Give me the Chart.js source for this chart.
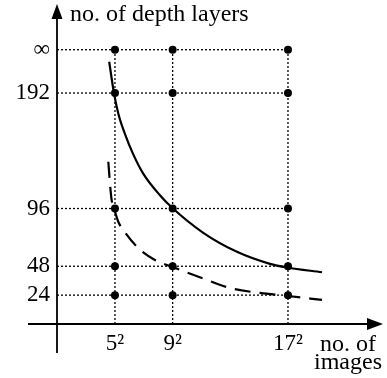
<!DOCTYPE html>
<html>
<head>
<meta charset="utf-8">
<script src="https://cdn.jsdelivr.net/npm/chart.js@4.4.0/dist/chart.umd.min.js"></script>
<style>
  html, body { margin: 0; padding: 0; background: #fff; }
  #wrap { width: 387px; height: 378px; }
</style>
</head>
<body>
<div id="wrap"><canvas id="chart" width="387" height="378"></canvas></div>
<script>
// Grid: image counts are n^2, depth levels on the y axis
const imageSides = [5, 9, 17];
const imageLabels = ["5\u00b2", "9\u00b2", "17\u00b2"];
const depthLevels = [24, 48, 96, 192, 228];
const depthLabels = ["24", "48", "96", "192", "\u221e"];

// Solid curve
const solidN = [4.60, 4.93, 5.23, 5.69, 6.27, 6.96, 8.12, 8.93, 11.10, 13.46, 15.75, 16.93, 19.36];
const solidDepth = [218, 192, 175, 158, 141, 125, 107, 97, 76, 60, 50, 47, 43];

// Dashed curve
const dashN = [4.54, 4.65, 4.77, 4.93, 5.23, 5.58, 6.60, 7.77, 9.0, 11.03, 12.98, 15.06, 17.0, 19.36];
const dashDepth = [134.9, 117.2, 103.1, 96.4, 85.0, 78.1, 63.2, 53.2, 47.4, 38.2, 29.9, 25.8, 23.3, 20.0];

const xMin = 0.98, xMax = 23.59;
const yMin = 0, yMax = 266;
const FONT = "'Liberation Serif', 'DejaVu Serif', serif";

let datasets = [];

// dotted horizontal grid lines, from the y axis to the last column
depthLevels.forEach(v => {
    datasets.push({
        data: [{x: xMin, y: v}, {x: imageSides[imageSides.length - 1], y: v}],
        borderColor: "#000", borderWidth: 1.3, borderDash: [2, 2],
        pointRadius: 0, tension: 0
    });
});
// dotted vertical grid lines, from the x axis to the top row
imageSides.forEach(n => {
    datasets.push({
        data: [{x: n, y: yMin}, {x: n, y: depthLevels[depthLevels.length - 1]}],
        borderColor: "#000", borderWidth: 1.3, borderDash: [2, 2],
        pointRadius: 0, tension: 0
    });
});
// dots on every crossing
let dots = [];
imageSides.forEach(n => depthLevels.forEach(v => dots.push({x: n, y: v})));
datasets.push({
    data: dots, showLine: false,
    pointRadius: 4, pointBackgroundColor: "#000", pointBorderWidth: 0
});
// curves
datasets.push({
    data: solidN.map((n, i) => ({x: n, y: solidDepth[i]})),
    borderColor: "#000", borderWidth: 2.2, pointRadius: 0,
    cubicInterpolationMode: "monotone"
});
datasets.push({
    data: dashN.map((n, i) => ({x: n, y: dashDepth[i]})),
    borderColor: "#000", borderWidth: 2.2, borderDash: [16, 9], pointRadius: 0,
    cubicInterpolationMode: "monotone"
});

// axes with arrow heads and the axis titles
const axesPlugin = {
    id: "axesArrows",
    afterDraw(chart) {
        const ctx = chart.ctx;
        const xs = chart.scales.x, ys = chart.scales.y;
        const ox = xs.getPixelForValue(xMin);
        const oy = ys.getPixelForValue(0);
        const top = chart.chartArea.top;
        const right = chart.chartArea.right;
        ctx.save();
        ctx.strokeStyle = "#000";
        ctx.fillStyle = "#000";
        ctx.lineWidth = 1.8;
        ctx.beginPath();
        ctx.moveTo(ox, oy + 29);
        ctx.lineTo(ox, top + 10);
        ctx.moveTo(ox - 29, oy);
        ctx.lineTo(right - 10, oy);
        ctx.stroke();
        // y arrow
        ctx.beginPath();
        ctx.moveTo(ox, top);
        ctx.lineTo(ox - 5.5, top + 15);
        ctx.lineTo(ox + 5.5, top + 15);
        ctx.closePath();
        ctx.fill();
        // x arrow
        ctx.beginPath();
        ctx.moveTo(right, oy);
        ctx.lineTo(right - 16, oy - 6);
        ctx.lineTo(right - 16, oy + 6);
        ctx.closePath();
        ctx.fill();
        // titles
        ctx.font = "24px " + FONT;
        ctx.textBaseline = "alphabetic";
        ctx.textAlign = "left";
        ctx.fillText("no. of depth layers", ox + 13, top + 17);
        ctx.textAlign = "center";
        ctx.fillText("no. of", right - 35, oy + 27);
        ctx.fillText("images", right - 35, oy + 45);
        ctx.restore();
    }
};

new Chart(document.getElementById("chart").getContext("2d"), {
    type: "line",
    data: { datasets: datasets },
    plugins: [axesPlugin],
    options: {
        responsive: false,
        devicePixelRatio: 1,
        animation: false,
        layout: { padding: { top: 3, right: 4, left: 0, bottom: 0 } },
        plugins: { legend: { display: false }, tooltip: { enabled: false } },
        scales: {
            x: {
                type: "linear", min: xMin, max: xMax,
                grid: { display: false, drawTicks: false },
                border: { display: false },
                afterFit: scale => {
                    scale.height = 54;
                    scale.paddingLeft = 0; scale.paddingRight = 0;
                },
                afterBuildTicks: scale => { scale.ticks = imageSides.map(v => ({value: v})); },
                ticks: {
                    padding: 6, color: "#000", maxRotation: 0, autoSkip: false,
                    font: { family: FONT, size: 23 },
                    callback: v => imageLabels[imageSides.indexOf(v)]
                }
            },
            y: {
                type: "linear", min: yMin, max: yMax,
                grid: { display: false, drawTicks: false },
                border: { display: false },
                afterFit: scale => {
                    scale.width = 57;
                    scale.paddingTop = 0; scale.paddingBottom = 0;
                },
                afterBuildTicks: scale => { scale.ticks = depthLevels.map(v => ({value: v})); },
                ticks: {
                    padding: 7, color: "#000", autoSkip: false,
                    font: { family: FONT, size: 23 },
                    callback: v => depthLabels[depthLevels.indexOf(v)]
                }
            }
        }
    }
});
</script>
</body>
</html>
